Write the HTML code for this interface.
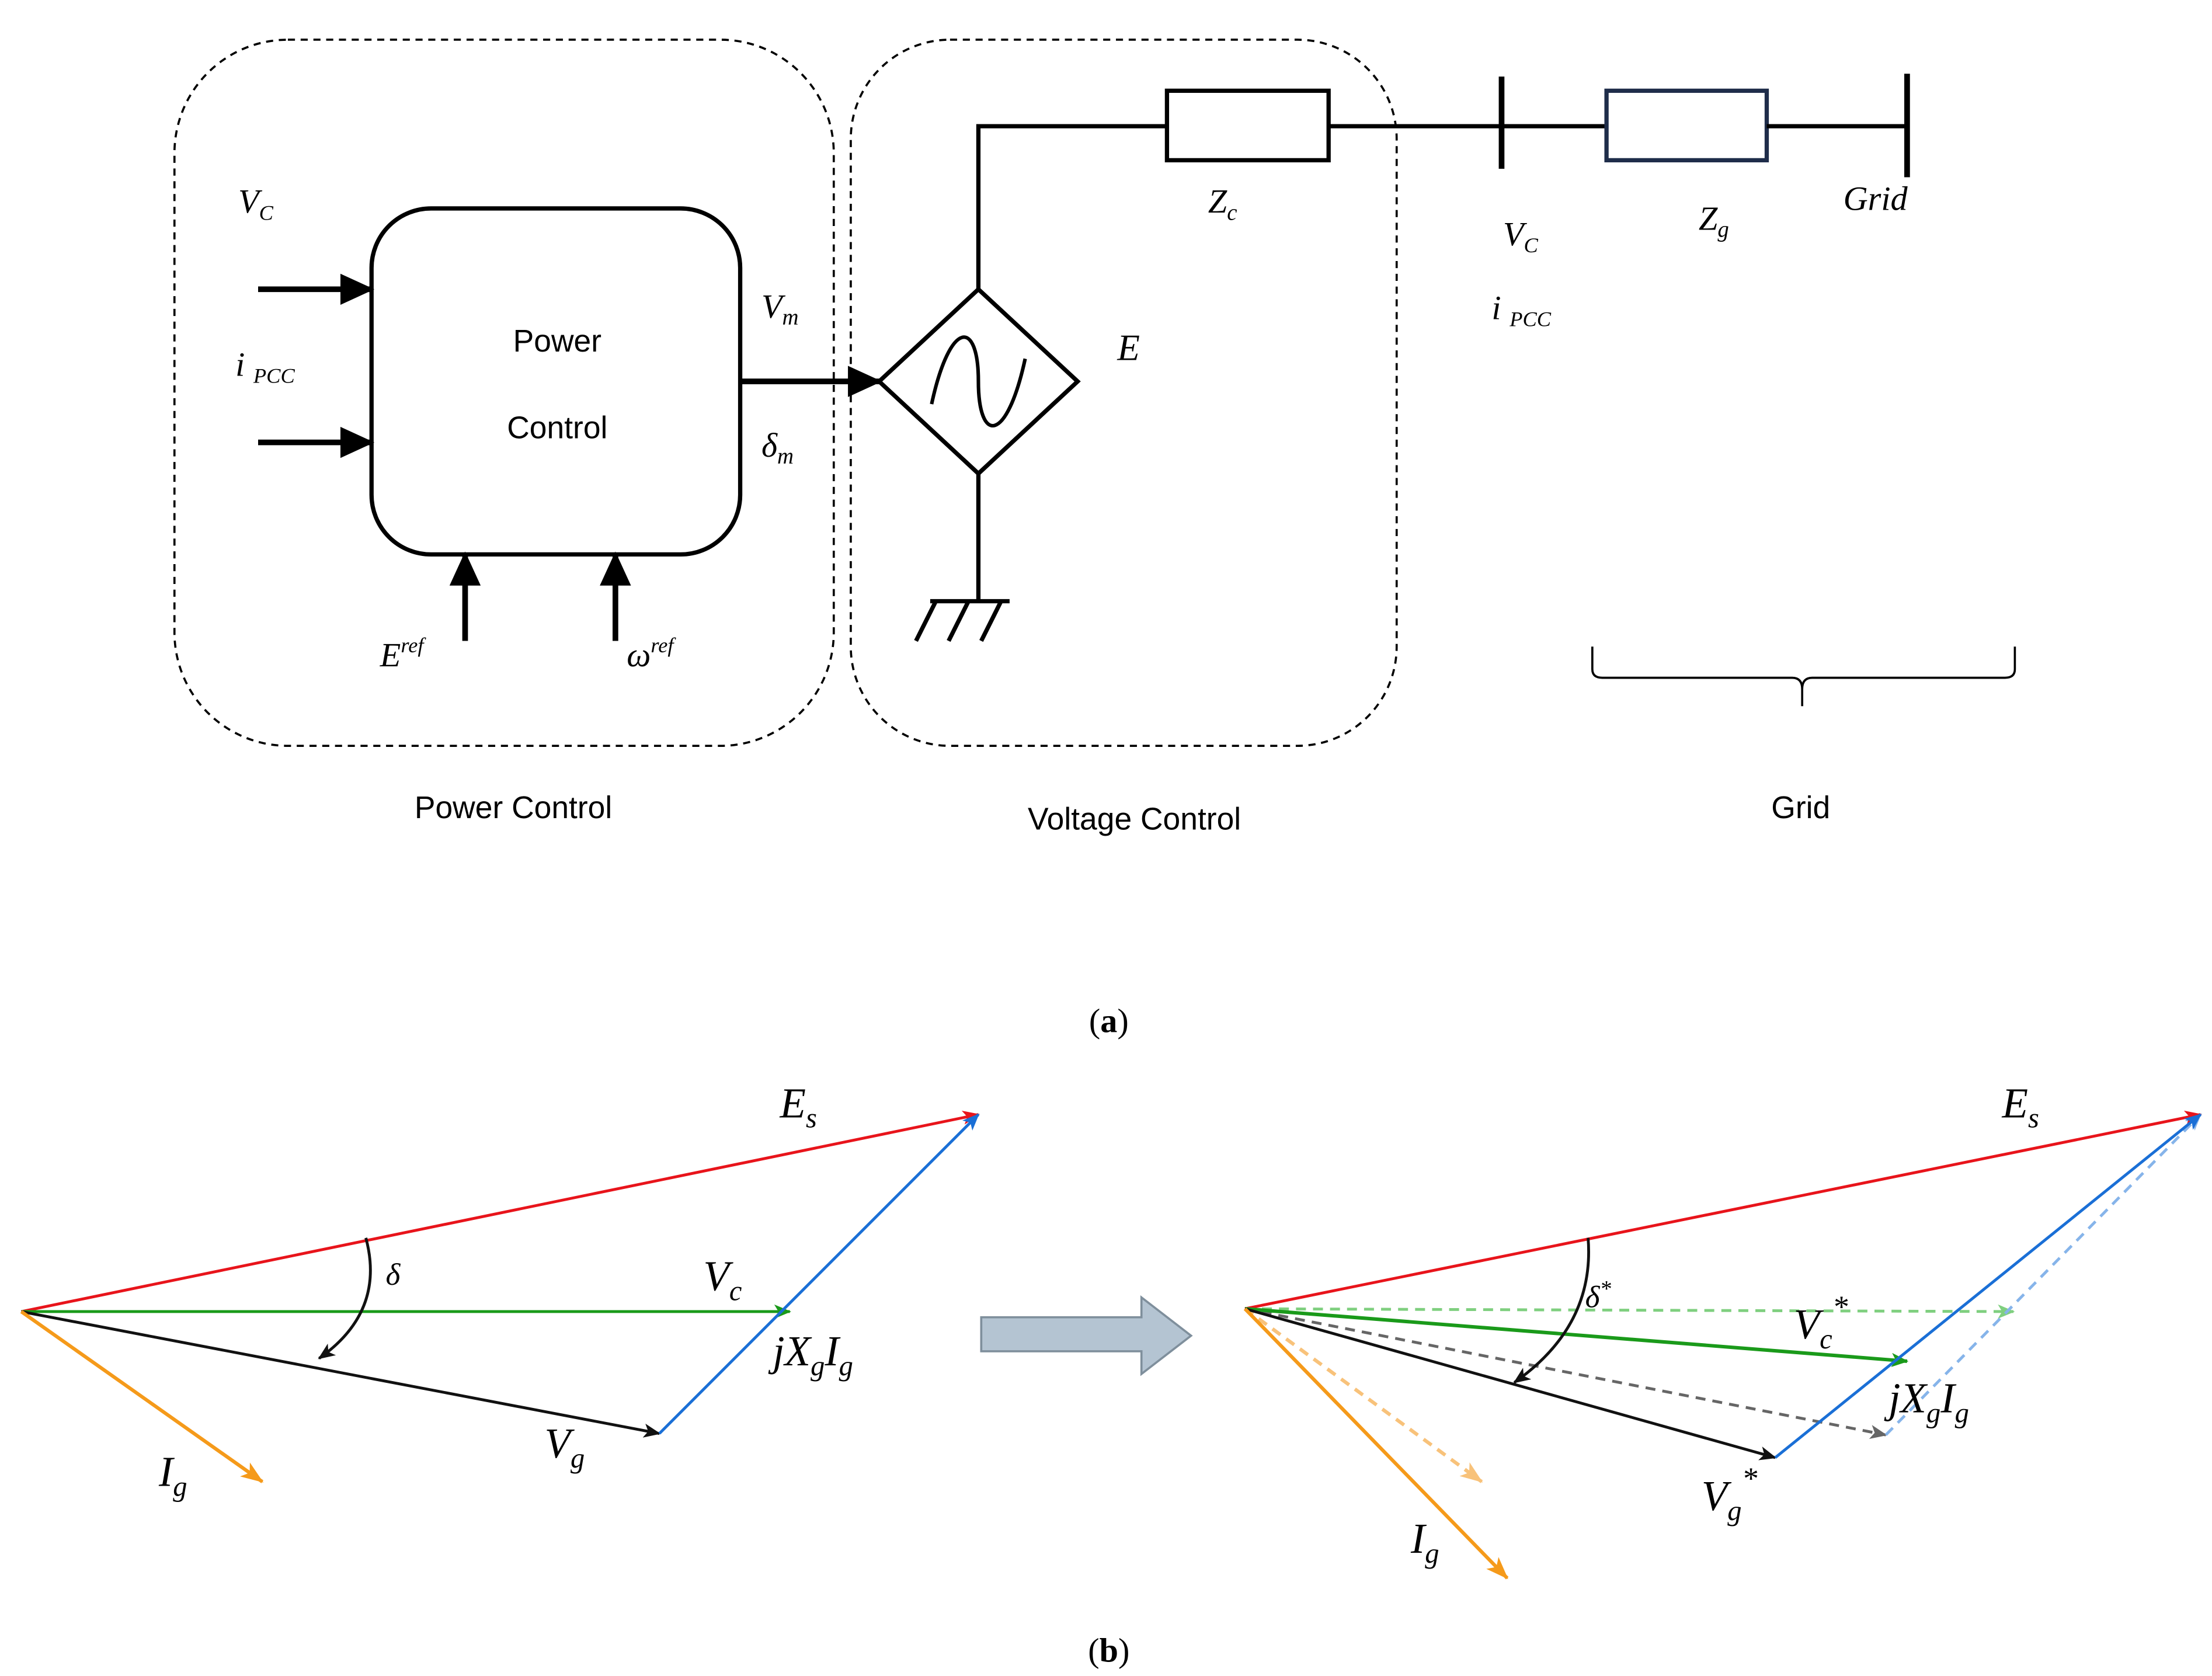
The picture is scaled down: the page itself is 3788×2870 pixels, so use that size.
<!DOCTYPE html>
<html><head><meta charset="utf-8"><style>
html,body{margin:0;padding:0;background:#fff;}
svg{display:block;}
.s{font-family:"Liberation Sans",sans-serif;}
.m{font-family:"Liberation Serif",serif;font-style:italic;}
</style></head><body>
<svg width="3788" height="2870" viewBox="0 0 1560 1182" xmlns="http://www.w3.org/2000/svg">
<defs>
<marker id="ab" markerWidth="10" markerHeight="10" refX="8" refY="5" orient="auto" markerUnits="userSpaceOnUse"><path d="M0,0 L10,5 L0,10 z" fill="#000"/></marker>
<marker id="big" markerWidth="24" markerHeight="22" refX="22" refY="11" orient="auto" markerUnits="userSpaceOnUse"><path d="M0,0 L24,11 L0,22 z" fill="#000"/></marker>
<marker id="ar" markerWidth="12" markerHeight="10" refX="11" refY="5" orient="auto" markerUnits="userSpaceOnUse"><path d="M0,0 L12,5 L0,10 L3,5 z" fill="#e8141b"/></marker>
<marker id="ag" markerWidth="12" markerHeight="10" refX="11" refY="5" orient="auto" markerUnits="userSpaceOnUse"><path d="M0,0 L12,5 L0,10 L3,5 z" fill="#1a9a1a"/></marker>
<marker id="agl" markerWidth="12" markerHeight="10" refX="11" refY="5" orient="auto" markerUnits="userSpaceOnUse"><path d="M0,0 L12,5 L0,10 L3,5 z" fill="#7fcf7f"/></marker>
<marker id="ak" markerWidth="12" markerHeight="10" refX="11" refY="5" orient="auto" markerUnits="userSpaceOnUse"><path d="M0,0 L12,5 L0,10 L3,5 z" fill="#111"/></marker>
<marker id="akl" markerWidth="12" markerHeight="10" refX="11" refY="5" orient="auto" markerUnits="userSpaceOnUse"><path d="M0,0 L12,5 L0,10 L3,5 z" fill="#666"/></marker>
<marker id="au" markerWidth="12" markerHeight="10" refX="11" refY="5" orient="auto" markerUnits="userSpaceOnUse"><path d="M0,0 L12,5 L0,10 L3,5 z" fill="#1a6fd6"/></marker>
<marker id="aul" markerWidth="12" markerHeight="10" refX="11" refY="5" orient="auto" markerUnits="userSpaceOnUse"><path d="M0,0 L12,5 L0,10 L3,5 z" fill="#86b4ea"/></marker>
<marker id="ao" markerWidth="16" markerHeight="12" refX="15" refY="6" orient="auto" markerUnits="userSpaceOnUse"><path d="M0,0 L16,6 L0,12 L4,6 z" fill="#f59a1a"/></marker>
<marker id="aol" markerWidth="16" markerHeight="12" refX="15" refY="6" orient="auto" markerUnits="userSpaceOnUse"><path d="M0,0 L16,6 L0,12 L4,6 z" fill="#f8c27a"/></marker>
</defs>

<!-- dashed boxes -->
<rect x="123" y="28" width="465" height="498" rx="80" fill="none" stroke="#000" stroke-width="1.5" stroke-dasharray="5,4"/>
<rect x="600" y="28" width="385" height="498" rx="70" fill="none" stroke="#000" stroke-width="1.5" stroke-dasharray="5,4"/>

<!-- power control block -->
<rect x="262" y="147" width="260" height="244" rx="42" fill="none" stroke="#000" stroke-width="3"/>
<text x="393" y="248" class="s" font-size="22" text-anchor="middle">Power</text>
<text x="393" y="309" class="s" font-size="22" text-anchor="middle">Control</text>
<line x1="182" y1="204" x2="262" y2="204" stroke="#000" stroke-width="4" marker-end="url(#big)"/>
<line x1="182" y1="312" x2="262" y2="312" stroke="#000" stroke-width="4" marker-end="url(#big)"/>
<line x1="328" y1="452" x2="328" y2="391" stroke="#000" stroke-width="4" marker-end="url(#big)"/>
<line x1="434" y1="452" x2="434" y2="391" stroke="#000" stroke-width="4" marker-end="url(#big)"/>
<line x1="522" y1="269" x2="620" y2="269" stroke="#000" stroke-width="4" marker-end="url(#big)"/>

<text x="168" y="150" class="m" font-size="24">V<tspan font-size="15" dy="5">C</tspan></text>
<text x="166" y="265" class="m" font-size="24">i <tspan font-size="15" dy="5">PCC</tspan></text>
<text x="268" y="470" class="m" font-size="24">E<tspan font-size="15" dy="-10">ref</tspan></text>
<text x="442" y="470" class="m" font-size="24">ω<tspan font-size="15" dy="-10">ref</tspan></text>
<text x="537" y="224" class="m" font-size="24">V<tspan font-size="16" dy="5">m</tspan></text>
<text x="537" y="322" class="m" font-size="24">δ<tspan font-size="16" dy="5">m</tspan></text>

<!-- source -->
<polygon points="620,269 690,204 760,269 690,334" fill="none" stroke="#000" stroke-width="3"/>
<path d="M657,285 C670,225 690,225 690,269 C690,313 710,313 723,253" fill="none" stroke="#000" stroke-width="2.5"/>
<text x="788" y="254" class="m" font-size="26">E</text>
<polyline points="690,204 690,89 823,89" fill="none" stroke="#000" stroke-width="3"/>
<rect x="823" y="64" width="114" height="49" fill="none" stroke="#000" stroke-width="3"/>
<line x1="937" y1="89" x2="1133" y2="89" stroke="#000" stroke-width="3"/>
<line x1="1059" y1="54" x2="1059" y2="119" stroke="#000" stroke-width="4"/>
<rect x="1133" y="64" width="113" height="49" fill="none" stroke="#1f2d4a" stroke-width="3"/>
<line x1="1246" y1="89" x2="1345" y2="89" stroke="#000" stroke-width="3"/>
<line x1="1345" y1="52" x2="1345" y2="125" stroke="#000" stroke-width="4"/>
<text x="852" y="150" class="m" font-size="24">Z<tspan font-size="16" dy="5">c</tspan></text>
<text x="1198" y="162" class="m" font-size="24">Z<tspan font-size="16" dy="5">g</tspan></text>
<text x="1300" y="148" class="m" font-size="24">Grid</text>
<text x="1060" y="173" class="m" font-size="24">V<tspan font-size="15" dy="5">C</tspan></text>
<text x="1052" y="225" class="m" font-size="24">i <tspan font-size="15" dy="5">PCC</tspan></text>

<!-- ground -->
<line x1="690" y1="334" x2="690" y2="424" stroke="#000" stroke-width="3"/>
<line x1="656" y1="424" x2="712" y2="424" stroke="#000" stroke-width="3"/>
<line x1="660" y1="424" x2="646" y2="452" stroke="#000" stroke-width="3"/>
<line x1="683" y1="424" x2="669" y2="452" stroke="#000" stroke-width="3"/>
<line x1="706" y1="424" x2="692" y2="452" stroke="#000" stroke-width="3"/>

<!-- brace -->
<path d="M1123,456 L1123,472 Q1123,478 1130,478 L1264,478 Q1271,478 1271,486 L1271,498 M1271,486 Q1271,478 1278,478 L1414,478 Q1421,478 1421,472 L1421,456" fill="none" stroke="#000" stroke-width="1.5"/>

<text x="362" y="577" class="s" font-size="22" text-anchor="middle">Power Control</text>
<text x="800" y="585" class="s" font-size="22" text-anchor="middle">Voltage Control</text>
<text x="1270" y="577" class="s" font-size="22" text-anchor="middle">Grid</text>
<text x="782" y="728" font-family="Liberation Serif,serif" font-size="24" text-anchor="middle">(<tspan font-weight="bold">a</tspan>)</text>
<text x="782" y="1172" font-family="Liberation Serif,serif" font-size="24" text-anchor="middle">(<tspan font-weight="bold">b</tspan>)</text>

<!-- left phasor -->
<line x1="15" y1="925" x2="690" y2="786" stroke="#e8141b" stroke-width="2" marker-end="url(#ar)"/>
<line x1="15" y1="925" x2="557" y2="925" stroke="#1a9a1a" stroke-width="2" marker-end="url(#ag)"/>
<line x1="15" y1="925" x2="465" y2="1011" stroke="#111" stroke-width="2" marker-end="url(#ak)"/>
<line x1="465" y1="1011" x2="690" y2="786" stroke="#1a6fd6" stroke-width="2" marker-end="url(#au)"/>
<line x1="15" y1="925" x2="185" y2="1045" stroke="#f59a1a" stroke-width="2.5" marker-end="url(#ao)"/>
<path d="M258,873 Q272,925 225,958" fill="none" stroke="#111" stroke-width="2" marker-end="url(#ak)"/>
<text x="272" y="906" class="m" font-size="22">δ</text>
<text x="550" y="788" class="m" font-size="30">E<tspan font-size="20" dy="7">s</tspan></text>
<text x="496" y="910" class="m" font-size="30">V<tspan font-size="20" dy="7">c</tspan></text>
<text x="545" y="963" class="m" font-size="30">jX<tspan font-size="20" dy="7">g</tspan><tspan dy="-7">I</tspan><tspan font-size="20" dy="7">g</tspan></text>
<text x="384" y="1028" class="m" font-size="30">V<tspan font-size="20" dy="7">g</tspan></text>
<text x="112" y="1048" class="m" font-size="30">I<tspan font-size="20" dy="7">g</tspan></text>

<!-- block arrow -->
<polygon points="692,929 805,929 805,915 840,942 805,969 805,953 692,953" fill="#b4c4d2" stroke="#7f8f9c" stroke-width="1.5"/>

<!-- right phasor -->
<line x1="878" y1="923" x2="1420" y2="925" stroke="#7fcf7f" stroke-width="2" stroke-dasharray="7,5" marker-end="url(#agl)"/>
<line x1="878" y1="923" x2="1330" y2="1012" stroke="#666" stroke-width="2" stroke-dasharray="7,5" marker-end="url(#akl)"/>
<line x1="1330" y1="1012" x2="1552" y2="786" stroke="#86b4ea" stroke-width="2" stroke-dasharray="7,5" marker-end="url(#aul)"/>
<line x1="878" y1="923" x2="1045" y2="1045" stroke="#f8c27a" stroke-width="2.5" stroke-dasharray="7,5" marker-end="url(#aol)"/>
<line x1="878" y1="923" x2="1552" y2="786" stroke="#e8141b" stroke-width="2" marker-end="url(#ar)"/>
<line x1="878" y1="923" x2="1345" y2="960" stroke="#1a9a1a" stroke-width="2.5" marker-end="url(#ag)"/>
<line x1="878" y1="923" x2="1252" y2="1028" stroke="#111" stroke-width="2" marker-end="url(#ak)"/>
<line x1="1252" y1="1028" x2="1552" y2="786" stroke="#1a6fd6" stroke-width="2" marker-end="url(#au)"/>
<line x1="878" y1="923" x2="1063" y2="1113" stroke="#f59a1a" stroke-width="2.5" marker-end="url(#ao)"/>
<path d="M1120,873 Q1125,935 1068,975" fill="none" stroke="#111" stroke-width="2" marker-end="url(#ak)"/>
<text x="1118" y="922" class="m" font-size="22">δ<tspan font-size="16" dy="-8">*</tspan></text>
<text x="1412" y="788" class="m" font-size="30">E<tspan font-size="20" dy="7">s</tspan></text>
<text x="1265" y="944" class="m" font-size="30">V<tspan font-size="20" dy="7">c</tspan><tspan font-size="22" dy="-22">*</tspan></text>
<text x="1332" y="996" class="m" font-size="30">jX<tspan font-size="20" dy="7">g</tspan><tspan dy="-7">I</tspan><tspan font-size="20" dy="7">g</tspan></text>
<text x="1200" y="1065" class="m" font-size="30">V<tspan font-size="20" dy="7">g</tspan><tspan font-size="22" dy="-22">*</tspan></text>
<text x="995" y="1095" class="m" font-size="30">I<tspan font-size="20" dy="7">g</tspan></text>
</svg>
</body></html>
